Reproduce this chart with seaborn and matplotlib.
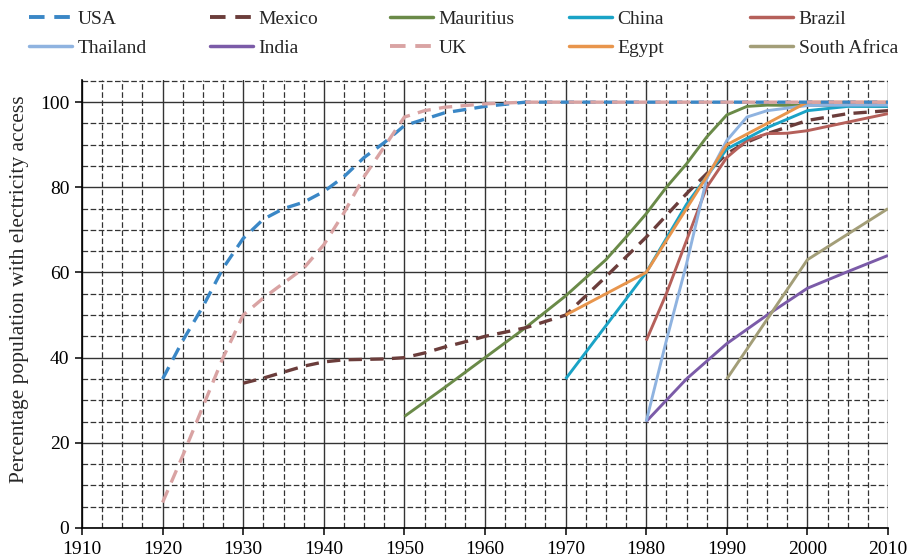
import matplotlib
matplotlib.use("Agg")
import matplotlib.pyplot as plt
from matplotlib.lines import Line2D
from matplotlib.ticker import MultipleLocator
import seaborn as sns
import pandas as pd

# Electricity access by country (% of population)
usa_years = [1920, 1922.5, 1925, 1927.5, 1930, 1932.5, 1935, 1937.5, 1940, 1942.5,
             1945, 1947.5, 1950, 1952.5, 1955, 1960, 1965, 1970, 1980, 1990, 2000, 2010]
usa_vals = [35, 44, 52, 61, 68, 72.5, 75, 76.5, 79, 82.5,
            87, 90.5, 94.5, 96, 97.5, 99, 100, 100, 100, 100, 100, 100]

uk_years = [1920, 1922.5, 1925, 1927.5, 1930, 1932.5, 1935, 1937.5, 1940, 1942.5,
            1945, 1947.5, 1950, 1952.5, 1955, 1960, 1965, 1970, 1980, 1990, 2000, 2010]
uk_vals = [6, 17, 28.5, 40, 50, 54, 57.5, 61, 66.5, 74,
           82.5, 89.5, 96.5, 98, 98.8, 99.6, 100, 100, 100, 100, 100, 100]

mexico_years = [1930, 1932.5, 1935, 1937.5, 1940, 1942.5, 1945, 1947.5, 1950, 1952.5,
                1955, 1957.5, 1960, 1965, 1970, 1975, 1980, 1985, 1990, 1992.5,
                1995, 2000, 2005, 2010]
mexico_vals = [34, 35.2, 36.6, 38, 39, 39.5, 39.6, 39.7, 40, 41.1,
               42.5, 43.7, 45, 47, 50, 59, 68.3, 78.5, 87.9, 90.6,
               92.6, 95.7, 97.3, 98]

mauritius_years = [1950, 1955, 1960, 1965, 1970, 1975, 1977.5, 1980, 1982.5, 1985,
                   1987.5, 1990, 1992.5, 1995, 2000, 2005, 2010]
mauritius_vals = [26.2, 33, 40, 47, 54.5, 63, 68.3, 73.8, 80, 85.5,
                  91.8, 97, 99, 99.3, 99.2, 99.2, 99]

china_years = [1970, 1975, 1980, 1985, 1990, 1995, 2000, 2005, 2010]
china_vals = [35, 47.5, 60, 76, 89, 94, 98, 99, 99]

brazil_years = [1980, 1982.5, 1985, 1987.5, 1990, 1992.5, 1995, 1997.5, 2000, 2005, 2010]
brazil_vals = [44, 55, 67.5, 80, 87, 91, 92.6, 92.7, 93.3, 95.3, 97.3]

thailand_years = [1980, 1982.5, 1985, 1987.5, 1990, 1992.5, 1995, 2000, 2005, 2010]
thailand_vals = [25, 44, 62, 82, 91, 96.5, 98, 99.2, 99.3, 99.3]

india_years = [1980, 1985, 1990, 1995, 2000, 2005, 2010]
india_vals = [25, 35, 43.3, 50, 56.3, 60.2, 64]

egypt_years = [1970, 1980, 1990, 2000, 2010]
egypt_vals = [50, 60, 90, 100, 100]

safrica_years = [1990, 2000, 2010]
safrica_vals = [35, 63, 75]

series = [
    ("USA", usa_years, usa_vals, "#3a87c6", True),
    ("Mexico", mexico_years, mexico_vals, "#6b3d3b", True),
    ("Mauritius", mauritius_years, mauritius_vals, "#6a8a48", False),
    ("China", china_years, china_vals, "#1aa3c6", False),
    ("Brazil", brazil_years, brazil_vals, "#b5605a", False),
    ("Thailand", thailand_years, thailand_vals, "#8fb3e0", False),
    ("India", india_years, india_vals, "#7b5ba8", False),
    ("UK", uk_years, uk_vals, "#d9a3a3", True),
    ("Egypt", egypt_years, egypt_vals, "#e8954c", False),
    ("South Africa", safrica_years, safrica_vals, "#a39e78", False),
]

sns.set_theme(style="white")
plt.rcParams["font.family"] = ["Liberation Serif", "DejaVu Serif"]

fig = plt.figure(figsize=(9.1, 5.6), dpi=100)
ax = fig.add_axes([82 / 910, 32 / 560, 806 / 910, 448 / 560])

DASH = (0, (4.0, 2.5))
handles = {}
# draw order so the pale and dashed lines sit on top
draw_order = ["Mauritius", "Mexico", "India", "South Africa", "Brazil",
              "China", "Thailand", "Egypt", "USA", "UK"]
lookup = {s[0]: s for s in series}
for name in draw_order:
    label, yrs, vals, color, dashed = lookup[name]
    df = pd.DataFrame({"year": yrs, "pct": vals})
    ls = DASH if dashed else "-"
    lw = 2.4 if dashed else 2.1
    sns.lineplot(data=df, x="year", y="pct", ax=ax, color=color,
                 linestyle=ls, linewidth=lw, solid_capstyle="butt",
                 dash_capstyle="butt", zorder=3)
    handles[label] = Line2D([], [], color=color, linestyle=ls, linewidth=lw + 0.4)

ax.set_xlim(1910, 2010)
ax.set_ylim(0, 105.2)
ax.xaxis.set_major_locator(MultipleLocator(10))
ax.xaxis.set_minor_locator(MultipleLocator(2.5))
ax.yaxis.set_major_locator(MultipleLocator(20))
ax.yaxis.set_minor_locator(MultipleLocator(5))

ax.grid(which="major", color="#333333", linewidth=1.0, linestyle="-", zorder=0)
ax.grid(which="minor", color="#333333", linewidth=0.9, linestyle=(0, (4.5, 2)), zorder=0)
ax.set_axisbelow(True)

for side in ["top", "right"]:
    ax.spines[side].set_visible(False)
for side in ["left", "bottom"]:
    ax.spines[side].set_color("black")
    ax.spines[side].set_linewidth(1.2)

ax.tick_params(which="major", direction="out", length=5, width=1.1, color="black",
               labelsize=14, labelcolor="black", left=True, bottom=True, pad=4)
ax.tick_params(which="minor", length=0)

ax.set_xlabel("")
ax.set_ylabel("Percentage population with electricity access", fontsize=15.5)
ax.yaxis.set_label_coords(-0.066, 0.533)

# legend: five columns of two entries each
columns = [("USA", "Thailand"), ("Mexico", "India"), ("Mauritius", "UK"),
           ("China", "Egypt"), ("Brazil", "South Africa")]
col_x = [29, 210, 390, 569, 750]
for (a, b), x in zip(columns, col_x):
    fig.legend(handles=[handles[a], handles[b]], labels=[a, b],
               loc="upper left", bbox_to_anchor=(x / 910, 1 - 10 / 560),
               frameon=False, fontsize=14, handlelength=2.2, handletextpad=0.3,
               borderpad=0, borderaxespad=0, labelspacing=0.62)

fig.savefig("out.png", dpi=100)
